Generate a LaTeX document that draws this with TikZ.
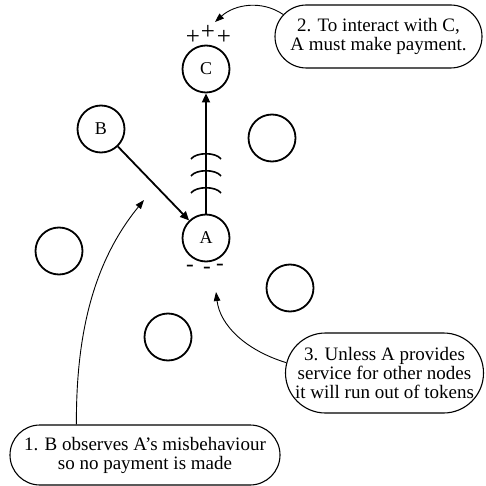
\documentclass[tikz,border=0pt]{standalone}
\usepackage{fontspec}
\setmainfont{Liberation Serif}
\usetikzlibrary{shapes.misc,arrows.meta}
\begin{document}
\begin{tikzpicture}[x=1pt,y=-1pt,
  peer/.style={circle,draw,line width=1.8pt,minimum size=47pt,inner sep=0pt,font=\fontsize{18}{18}\selectfont},
  callout/.style={rounded rectangle,draw,line width=1.1pt,inner sep=0pt,align=center,font=\fontsize{19}{19}\selectfont},
  bigarrow/.style={line width=1.8pt,-{Triangle[length=9pt,width=8pt]}},
  note/.style={line width=0.9pt,-{Triangle[length=9pt,width=6.5pt]}},
  plus/.style={inner sep=0pt,font=\fontsize{25}{25}\selectfont},
  minus/.style={inner sep=0pt,font=\fontsize{23}{23}\selectfont},
  bond/.style={line width=1.6pt}
]
\useasboundingbox (0,0) rectangle (485,486);
% peers
\node[peer] (C) at (206,69) {C};
\node[peer] (B) at (101,129) {B};
\node[peer] (A) at (206,238) {A};
\node[peer] (P1) at (272,138) {};
\node[peer] (P2) at (59,251) {};
\node[peer] (P3) at (290,288) {};
\node[peer] (P4) at (168,337) {};
% signs
\node[plus] (pl1) at (193,37) {+};
\node[plus] (pl2) at (208,32) {+};
\node[plus] (pl3) at (224,37) {+};
\node[minus] (mi1) at (190,268) {-};
\node[minus] (mi2) at (207,270) {-};
\node[minus] (mi3) at (220,267) {-};
% connectors
\draw[bigarrow] (A) -- (C);
\draw[bigarrow] (B) -- (A);
% bond arcs
\foreach \yy in {153,170,187}{
  \draw[bond] (191,\yy+6) .. controls (196,\yy-1) and (216,\yy-1) .. (221,\yy+6);
}
% callouts
\node[callout,minimum width=207pt,minimum height=63pt] (c2) at (378.5,36.5) {2. To interact with C,\\A must make payment.};
\node[callout,minimum width=198pt,minimum height=80pt] (c3) at (384.5,373) {3. Unless A provides\\service for other nodes\\it will run out of tokens};
\node[callout,minimum width=270pt,minimum height=60pt] (c1) at (145,455) {1. B observes A’s misbehaviour\\so no payment is made};
% targets
\coordinate (t2) at (215,22);
\coordinate (t3) at (216,292);
\coordinate (t1) at (144,200);
\draw[note] (c2.167) .. controls (262,0) and (235,4) .. (t2);
\draw[note] (c3.174) .. controls (245,350) and (220,325) .. (t3);
\draw[note] (c1.156) .. controls (76,330) and (95,260) .. (t1);
\end{tikzpicture}
\end{document}
